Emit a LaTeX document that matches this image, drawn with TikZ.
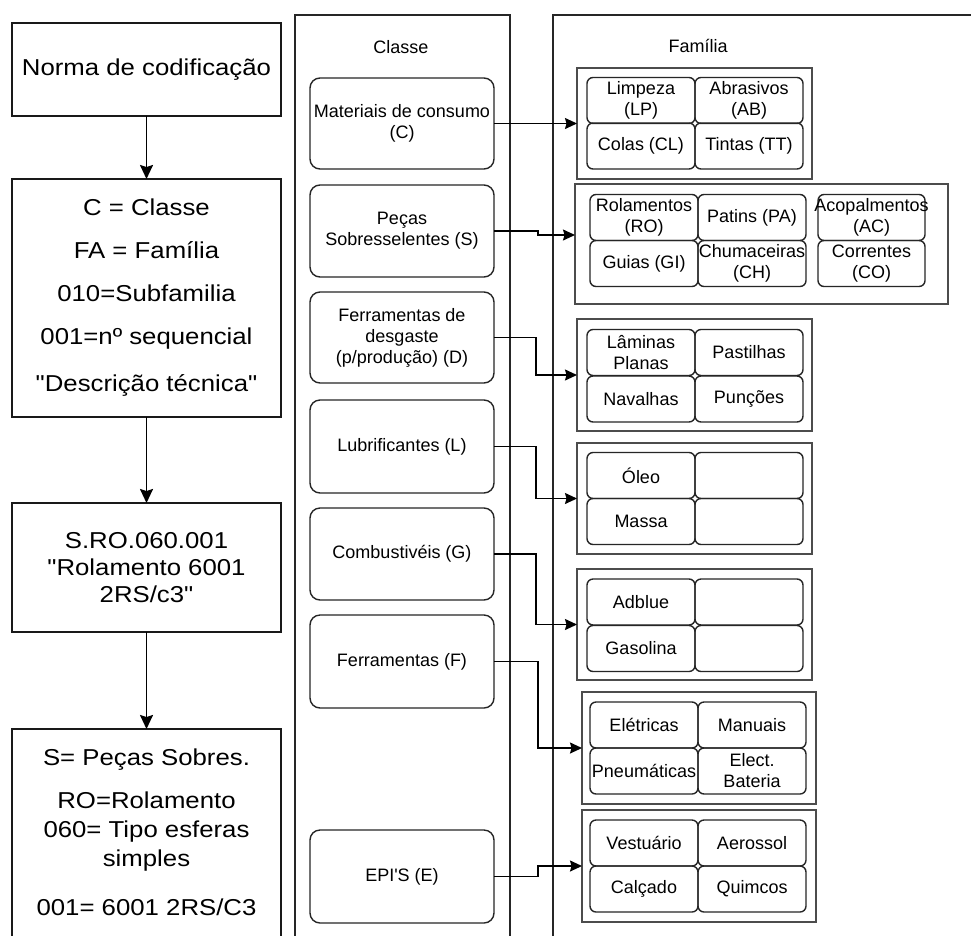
\documentclass[tikz,border=0pt]{standalone}
\usepackage{fontspec}
\setmainfont{Liberation Sans}
\newfontfamily\widesans[FakeStretch=1.12]{Liberation Sans}
\usetikzlibrary{arrows.meta}
% text wider than its cell, kept centred without widening the cell
\newcommand\ovl[1]{\makebox[0pt][c]{#1}}

\begin{document}
\begin{tikzpicture}[x=1pt,y=-1pt,
  every node/.style={inner sep=0pt, outer sep=0pt, text=black},
  stepbox/.style={draw=black!90, line width=1.8pt, minimum width=269pt, align=center,
    font=\widesans\fontsize{23}{27}\selectfont},
  steptext/.style={align=center, font=\widesans\fontsize{23}{27}\selectfont},
  frame/.style={draw=black!85, line width=1.4pt},
  classbox/.style={draw=black!85, line width=1.4pt, rounded corners=10pt,
    minimum width=184pt, align=center, font=\fontsize{18}{21}\selectfont},
  group/.style={draw=black!70, line width=1.8pt},
  cell/.style={draw=black!85, line width=1.4pt, rounded corners=6pt,
    minimum width=108pt, minimum height=46pt, align=center, font=\fontsize{18}{21}\selectfont},
  title/.style={font=\fontsize{18}{21}\selectfont},
  bigarr/.style={draw=black, line width=1.8pt, -{Stealth[length=14pt,width=13pt,inset=2pt]}},
  arr/.style={draw=black, line width=1.4pt, -{Stealth[length=12pt,width=11pt,inset=1.5pt]}}
]
\useasboundingbox (0,0) rectangle (971,935);
\fill[white] (0,0) rectangle (971,935);
\clip (0,0) rectangle (971,935);

% ---- column frames ----
\node[frame, minimum width=215pt, minimum height=945pt] (classcol) at (402.5,487.5) {};
\node[frame, minimum width=547pt, minimum height=945pt] (famcol) at (826.5,487.5) {};
\node[title] (classtitle) at (401,47) {Classe};
\node[title] (famtitle) at (698,46) {Família};

% ---- coding steps ----
\node[stepbox, minimum height=93pt] (norma) at (146.5,69.5) {Norma de codificação};
\node[stepbox, minimum height=238pt, font=\widesans\fontsize{23}{43}\selectfont] (fields) at (146.5,298)
  {C = Classe\\FA = Família\\010=Subfamilia\\001=nº sequencial\\[4pt]"Descrição técnica"};
\node[stepbox, minimum height=129pt] (example) at (146.5,567.5)
  {S.RO.060.001\\"Rolamento 6001\\2RS/c3"};
\node[stepbox, minimum height=262pt] (decode) at (146.5,860) {};
\node[steptext, font=\widesans\fontsize{23}{29}\selectfont] (decodetext) at (146.5,832)
  {S= Peças Sobres.\\[14pt]RO=Rolamento\\060= Tipo esferas\\simples\\[20pt]001= 6001 2RS/C3};

\draw[bigarr] (norma.south) -- (fields.north);
\draw[bigarr] (fields.south) -- (example.north);
\draw[bigarr] (example.south) -- (decode.north);

% ---- classes ----
\node[classbox, minimum height=91pt] (m1) at (402,123.5) {Materiais de consumo\\(C)};
\node[classbox, minimum height=92pt] (m2) at (402,231) {Peças\\Sobresselentes (S)};
\node[classbox, minimum height=91pt] (m3) at (402,337.5) {Ferramentas de\\desgaste\\(p/produção) (D)};
\node[classbox, minimum height=93pt] (m4) at (402,446.5) {Lubrificantes (L)};
\node[classbox, minimum height=92pt] (m5) at (402,554) {Combustivéis (G)};
\node[classbox, minimum height=93pt] (m6) at (402,661.5) {Ferramentas (F)};
\node[classbox, minimum height=93pt] (m7) at (402,876.5) {EPI\textquotesingle S (E)};

% ---- family groups ----
\node[group, minimum width=235pt, minimum height=111pt] (g1) at (694.5,123.5) {};
\node[group, minimum width=373pt, minimum height=120pt] (g2) at (761.5,244) {};
\node[group, minimum width=235pt, minimum height=112pt] (g3) at (694.5,375) {};
\node[group, minimum width=235pt, minimum height=111pt] (g4) at (694.5,498.5) {};
\node[group, minimum width=235pt, minimum height=111pt] (g5) at (694.5,624.5) {};
\node[group, minimum width=234pt, minimum height=112pt] (g6) at (699,748) {};
\node[group, minimum width=234pt, minimum height=112pt] (g7) at (699,866) {};

% consumables
\node[cell] (lp) at (641,100.5) {Limpeza\\(LP)};
\node[cell] (ab) at (749,100.5) {Abrasivos\\(AB)};
\node[cell] (cl) at (641,146) {Colas (CL)};
\node[cell] (tt) at (749,146) {Tintas (TT)};
% spare parts
\node[cell] (ro) at (644,217.5) {Rolamentos\\(RO)};
\node[cell] (pa) at (752,217.5) {Patins (PA)};
\node[cell, minimum width=107pt] (ac) at (871.5,217.5) {\ovl{Acopalmentos}\\(AC)};
\node[cell] (gi) at (644,263.5) {Guias (GI)};
\node[cell] (ch) at (752,263.5) {\ovl{Chumaceiras}\\(CH)};
\node[cell, minimum width=107pt] (co) at (871.5,263.5) {Correntes\\(CO)};
% wear tools
\node[cell] (lam) at (641,352.5) {Lâminas\\Planas};
\node[cell] (pas) at (749,352.5) {Pastilhas};
\node[cell] (nav) at (641,399) {Navalhas};
\node[cell] (pun) at (749,399) {Punções};
% lubricants
\node[cell] (oleo) at (641,475.5) {Óleo};
\node[cell] (lub2) at (749,475.5) {};
\node[cell] (massa) at (641,521.5) {Massa};
\node[cell] (lub4) at (749,521.5) {};
% fuels
\node[cell] (adb) at (641,602) {Adblue};
\node[cell] (fuel2) at (749,602) {};
\node[cell] (gas) at (641,648.5) {Gasolina};
\node[cell] (fuel4) at (749,648.5) {};
% tools
\node[cell] (ele) at (644,725) {Elétricas};
\node[cell] (man) at (752,725) {Manuais};
\node[cell] (pne) at (644,771) {\ovl{Pneumáticas}};
\node[cell] (bat) at (752,771) {Elect.\\Bateria};
% PPE
\node[cell] (ves) at (644,843) {Vestuário};
\node[cell] (aer) at (752,843) {Aerossol};
\node[cell] (cal) at (644,889) {Calçado};
\node[cell] (qui) at (752,889) {Quimcos};

% ---- class to family connectors ----
\draw[arr] (m1.east) -- (g1.west);
\draw[arr] (m2.east) -- ++(44,0) |- ([yshift=9pt]g2.west);
\draw[arr] (m3.east) -- ++(42,0) |- (g3.west);
\draw[arr] (m4.east) -- ++(42,0) |- (g4.west);
\draw[arr] (m5.east) -- ++(42,0) |- (g5.west);
\draw[arr] (m6.east) -- ++(44,0) |- (g6.west);
\draw[arr] (m7.east) -- ++(44,0) |- (g7.west);
\end{tikzpicture}
\end{document}
